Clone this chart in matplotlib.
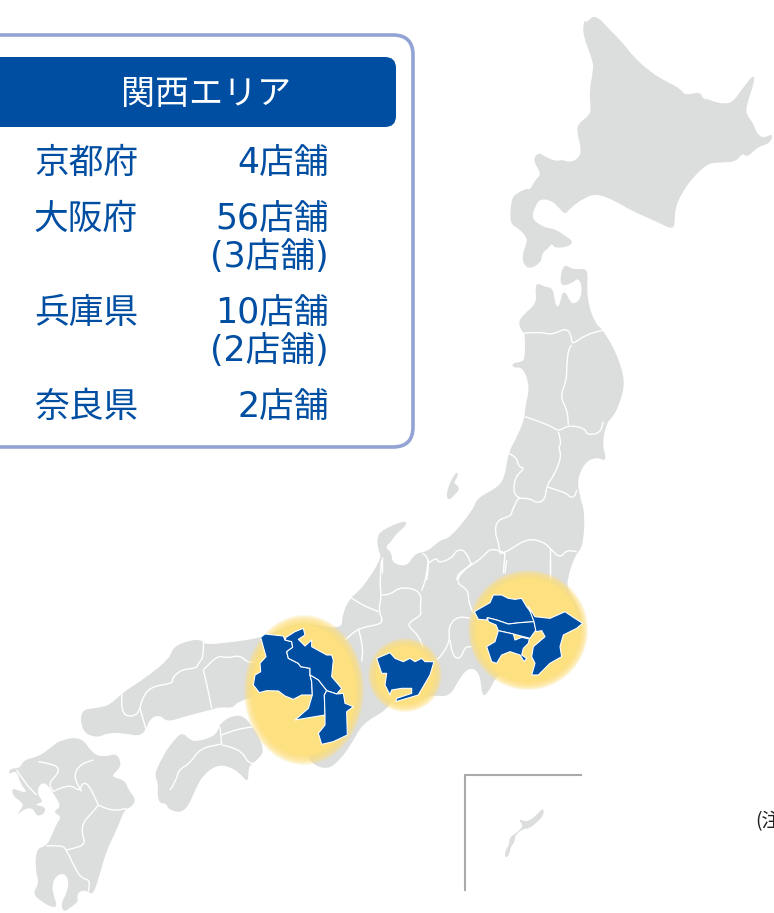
# -*- coding: utf-8 -*-
import matplotlib
matplotlib.use('Agg')
import matplotlib.pyplot as plt
from matplotlib.patches import Polygon, Ellipse, FancyBboxPatch, PathPatch
from matplotlib.path import Path

plt.rcParams['font.family'] = ['Noto Sans CJK JP', 'DejaVu Sans']
VALUE_FONT = ['DejaVu Sans', 'Noto Sans CJK JP']

LAND = '#dcdddd'
BLUE = '#004ea2'
GLOW = '#fde07f'

# shops table
prefs = ['京都府', '大阪府', '兵庫県', '奈良県']
shops = ['4店舗', '56店舗', '10店舗', '2店舗']
sub_shops = ['', '(3店舗)', '(2店舗)', '']
area_title = '関西エリア'

# traced outlines, image pixels
honshu = [(538,283),(545,287),(553,288),(555,303),(558,308),(561,300),(562,293),(566,292),(570,302),(575,304),
          (581,298),(582,284),(577,278),(573,283),(559,287),(563,263),(573,270),(588,268),(587,285),(588,303),
          (595,323),(603,330),(613,347),(620,363),(625,383),(620,403),(613,417),(607,422),(602,443),(607,462),
          (597,457),(585,462),(577,480),(580,497),(585,513),(583,547),(575,555),(567,580),(568,590),(575,600),
          (585,625),(572,645),(555,665),(538,675),(530,678),(525,655),(515,655),(510,670),(497,675),(488,693),
          (482,697),(480,673),(470,667),(460,677),(450,697),(433,695),(420,700),(405,700),(395,695),(387,710),
          (363,723),(352,743),(340,760),(327,770),(310,763),(300,740),(290,720),(270,700),(260,695),(237,702),
          (233,708),(220,707),(210,710),(183,717),(167,722),(160,715),(150,718),(143,737),(123,733),(107,733),
          (97,738),(82,732),(80,710),(97,708),(110,705),(122,693),(147,677),(170,658),(173,647),(190,640),
          (203,640),(205,645),(233,642),(260,638),(280,630),(300,622),(342,630),(342,615),(350,598),(358,592),
          (368,580),(382,557),(378,550),(377,537),(382,530),(405,520),(407,525),(397,533),(390,543),(385,547),
          (392,553),(392,563),(407,567),(415,553),(427,552),(440,540),(450,538),(473,510),(477,498),(497,488),
          (505,477),(508,453),(518,435),(525,417),(525,407),(530,387),(523,367),(513,368),(512,363),(522,362),
          (525,358),(525,335),(523,333),(518,323),(523,315),(537,303),(535,287)]
sado = [(457,470),(458,477),(453,483),(460,487),(457,493),(447,502),(447,488)]

# crop 1: origin 430,0 scale 3
hokkaido = [(462,60),(470,68),(495,42),(540,90),(580,130),(610,170),(660,215),(705,243),(750,265),(765,287),
            (810,275),(820,298),(835,297),(850,305),(885,312),(910,305),(945,255),(973,222),(972,250),(948,320),
            (950,345),(970,370),(980,400),(1000,415),(1030,400),(1020,430),(985,440),(965,460),(950,470),(935,460),
            (920,485),(865,488),(835,490),(790,530),(755,580),(735,625),(735,660),(730,690),(680,665),(600,630),
            (560,605),(500,580),(460,595),(420,625),(405,645),(380,615),(360,600),(330,597),(315,620),(305,655),
            (330,675),(355,685),(375,687),(410,710),(430,725),(415,740),(375,745),(365,730),(355,745),(335,760),
            (335,785),(305,805),(285,800),(275,770),(290,730),(290,710),(265,685),(245,675),(240,650),(245,595),
            (260,580),(290,565),(300,570),(315,540),(335,523),(308,480),(325,457),(345,470),(380,485),(395,478),
            (420,488),(445,475),(455,450),(440,395),(445,370),(480,345),(482,320),(478,270),(490,210),(488,180),
            (458,105)]

# crop 4: origin 0,620
shikoku = [(545,335),(570,360),(590,365),(640,350),(655,330),(660,310),(700,285),(740,290),(800,390),(760,430),
           (745,440),(745,490),(720,460),(690,440),(650,435),(610,465),(590,500),(555,580),(505,570),(500,550),
           (478,550),(472,520),(475,490),(465,470),(470,445),(500,390),(515,370)]
kyushu = [(180,360),(245,350),(280,405),(320,410),(345,400),(362,420),(360,445),(330,470),(375,480),(385,510),
          (410,540),(390,565),(375,565),(350,630),(320,690),(300,760),(280,825),(265,815),(245,810),(230,825),
          (235,845),(215,860),(190,878),(183,850),(200,820),(207,785),(195,760),(170,765),(155,795),(162,830),
          (172,860),(155,862),(125,845),(97,820),(118,790),(105,745),(110,685),(135,680),(150,660),(170,610),
          (185,590),(158,575),(185,560),(160,520),(140,490),(120,490),(110,520),(130,545),(115,550),(105,555),
          (135,560),(135,580),(110,590),(100,565),(75,565),(45,590),(70,560),(65,545),(40,530),(35,505),
          (50,510),(85,520),(60,490),(50,450),(25,465),(30,445),(60,445),(70,420),(115,410),(150,385)]
west_borders = [
    [(610,60),(612,110),(595,130),(590,145),(545,148),(515,175),(520,190),(450,200),(425,240),(420,265),(410,285),(380,290),(365,270),(365,220)],
    [(610,150),(620,190),(635,265)],
    [(610,150),(650,105),(680,115),(720,105),(745,130),(780,120)],
    [(420,265),(440,335)],
    [(510,510),(530,480),(535,450),(570,430),(600,385),(665,372)],
    [(660,320),(665,372)],
    [(665,345),(700,330),(760,320)],
    [(665,375),(720,385),(745,430),(770,430)],
    [(50,450),(75,490),(110,525)],
    [(115,425),(145,430),(175,440),(175,460),(145,490),(160,515)],
    [(160,515),(205,490),(240,515),(245,490),(265,490),(295,555)],
    [(280,420),(240,430),(220,470),(245,515)],
    [(295,555),(280,575),(250,605),(245,640),(258,675),(200,690)],
    [(295,555),(325,570),(360,570),(378,565)],
    [(140,678),(185,675),(200,690),(225,745),(245,775),(270,780),(265,815)],
]

# crop 2: origin 340,280
north_borders = [
    [(548,160),(600,155),(635,165),(680,143),(695,170),(695,195),(735,165),(790,150)],
    [(695,195),(685,205),(680,260),(680,300),(660,350),(682,390),(685,435)],
    [(555,410),(630,435),(655,455),(685,435),(735,445),(740,465),(780,460),(790,425)],
    [(655,455),(665,490),(655,500),(665,530),(640,590),(620,615),(615,660),(590,670),(570,655),(535,655)],
    [(505,520),(530,530),(535,560),(555,565),(525,590),(520,640),(540,655)],
    [(620,620),(650,630),(680,640),(690,652),(705,650),(710,630)],
    [(535,655),(515,690),(515,708),(470,720),(465,760),(475,785),(480,820)],
    [(480,820),(495,820),(560,775),(610,785),(630,805),(660,835),(680,810),(710,815)],
    [(495,820),(455,800),(430,830),(395,855),(355,880),(350,900)],
    [(630,805),(630,900)],
    [(495,820),(490,880)],
    [(248,820),(265,830),(265,870),(260,900)],
    [(265,850),(290,830),(295,850),(335,835),(350,810),(375,810),(395,855)],
    [(125,830),(125,880)],
]

# crop 3: origin 230,560
central_borders = [
    [(455,0),(448,60),(455,110),(445,150),(460,185),(440,195),(385,205),(345,240)],
    [(360,110),(385,130),(445,155)],
    [(385,205),(400,260),(395,305)],
    [(455,105),(480,105),(510,80),(575,92),(570,150),(575,165),(540,185),(535,200),(565,225),(580,265)],
    [(595,0),(590,50),(575,92)],
    [(725,10),(690,40),(680,70),(715,90),(715,125),(730,160)],
    [(720,175),(685,165),(655,200),(660,240),(640,280),(620,300)],
    [(660,240),(665,285),(690,300),(705,260),(725,260)],
    [(830,0),(825,40)],
    [(960,0),(960,50)],
]
hyogo = [(92,232),(105,222),(160,228),(165,240),(185,245),(188,262),(170,275),(175,295),(205,310),(212,320),
         (240,325),(240,345),(245,365),(247,405),(222,405),(215,405),(190,418),(165,408),(145,393),(110,392),
         (88,398),(70,375),(75,345),(92,335),(90,310),(108,290)]
kyoto = [(165,240),(168,232),(195,215),(220,205),(225,225),(205,238),(225,258),(245,240),(245,260),(290,285),
         (305,285),(310,300),(305,350),(335,385),(320,402),(290,392),(265,360),(240,345),(240,325),(212,320),
         (205,310),(175,295),(170,275),(188,262),(185,245)]
osaka = [(240,345),(265,360),(290,392),(283,405),(285,465),(195,480),(235,445),(247,405),(245,365)]
nara = [(290,392),(320,402),(340,400),(345,430),(370,440),(350,455),(352,525),(310,545),(275,553),(265,520),
        (285,495),(285,465),(283,405)]
aichi = [(440,295),(480,278),(495,295),(520,305),(540,295),(555,305),(575,295),(585,305),(612,305),(600,345),
         (565,405),(497,425),(500,415),(545,400),(545,385),(515,385),(485,390),(480,405),(465,375),(470,340),(455,340)]
saitama = [(733,155),(750,145),(780,128),(790,105),(815,105),(835,115),(855,118),(875,115),(890,140),(905,160),
           (912,185),(870,188),(835,192),(800,180),(772,173),(770,180),(745,178)]
tokyo = [(772,173),(800,180),(835,192),(870,188),(912,185),(918,210),(900,235),(850,222),(805,212),(798,195),(775,185)]
kanagawa = [(805,212),(850,222),(855,240),(875,232),(898,237),(895,250),(880,265),(875,285),(890,295),(882,305),
            (870,285),(840,275),(815,285),(800,310),(785,305),(770,260),(795,245)]
chiba = [(895,140),(915,170),(960,175),(1005,155),(1030,172),(1058,190),(1040,205),(1000,225),(990,260),(995,290),
         (960,310),(925,345),(905,345),(915,310),(905,290),(910,260),(945,230),(935,212),(918,215),(912,185)]

# crop 6: origin 450,760
okinawa = [(280,143),(282,165),(258,190),(235,207),(222,205),(195,225),(195,245),(182,260),(178,285),(165,295),
           (165,272),(178,255),(178,232),(195,222),(215,205),(218,195),(205,178),(220,182),(235,185),(265,160)]


def crop(points, x0, y0):
    return [(x0 + x / 3, y0 + y / 3) for x, y in points]


def rounded(points, closed=False):
    # quadratic curves through the midpoints, traced points act as controls
    mids = [((a[0] + b[0]) / 2, (a[1] + b[1]) / 2) for a, b in zip(points, points[1:] + points[:1])]
    if closed:
        verts = [mids[-1]]
        codes = [Path.MOVETO]
        for p, m in zip(points, mids):
            verts += [p, m]
            codes += [Path.CURVE3, Path.CURVE3]
        return Path(verts, codes)
    verts = [points[0]]
    codes = [Path.MOVETO]
    for p, m in zip(points[1:-1], mids[1:-1]):
        verts += [p, m]
        codes += [Path.CURVE3, Path.CURVE3]
    verts.append(points[-1])
    codes.append(Path.LINETO)
    return Path(verts, codes)


fig = plt.figure(figsize=(7.74, 9.13), dpi=100)
ax = fig.add_axes([0, 0, 1, 1])
ax.set_xlim(0, 774)
ax.set_ylim(913, 0)
ax.axis('off')

land = [honshu, sado, crop(hokkaido, 430, 0), crop(shikoku, 0, 620), crop(kyushu, 0, 620), crop(okinawa, 450, 760)]
for shape in land:
    ax.add_patch(PathPatch(rounded(shape, closed=True), fc=LAND, ec='none', zorder=1))

for lines, x0, y0 in [(west_borders, 0, 620), (north_borders, 340, 280), (central_borders, 230, 560)]:
    for line in lines:
        ax.add_patch(PathPatch(rounded(crop(line, x0, y0)), fc='none', ec='white', lw=1.0, zorder=2))

# soft yellow blobs
for cx, cy, rx, ry in [(304, 690, 60, 75), (405, 675, 37, 37), (528, 630, 60, 60)]:
    for k in range(12):
        s = 1 - k * 0.7 / rx
        ax.add_patch(Ellipse((cx, cy), 2 * rx * s, 2 * ry * s, fc=GLOW, ec='none',
                             alpha=0.18 if k < 11 else 1, zorder=3))

for shape in [hyogo, kyoto, osaka, nara, aichi, saitama, tokyo, kanagawa, chiba]:
    ax.add_patch(Polygon(crop(shape, 230, 560), closed=True, fc=BLUE, ec='white', lw=0.8, zorder=4,
                         joinstyle='round'))

# okinawa inset frame
ax.plot([581, 465, 465], [775, 775, 890], color='#aaaaaa', lw=1.5, zorder=2, solid_joinstyle='miter')

# panel
ax.add_patch(FancyBboxPatch((-40, 35), 453, 412, boxstyle='round,pad=0,rounding_size=20',
                            fc='white', ec='#93a3d4', lw=2.6, zorder=5))
ax.add_patch(FancyBboxPatch((-30, 57), 426, 70, boxstyle='round,pad=0,rounding_size=11',
                            fc=BLUE, ec='none', zorder=6))
ax.text(206, 94, area_title, color='white', fontsize=24.5, ha='center', va='center', zorder=7)

row_y = [163, 219, 313, 407]
sub_y = [None, 257, 351, None]
for name, n, sub, y, y2 in zip(prefs, shops, sub_shops, row_y, sub_y):
    ax.text(34, y, name, color=BLUE, fontsize=25, ha='left', va='center', zorder=7)
    ax.text(329, y, n, color=BLUE, fontsize=25, ha='right', va='center', zorder=7, family=VALUE_FONT)
    if sub:
        ax.text(329, y2, sub, color=BLUE, fontsize=25, ha='right', va='center', zorder=7, family=VALUE_FONT)

ax.text(755, 822, '(注', color='#222222', fontsize=14, ha='left', va='center', zorder=7)

fig.savefig('out.png', dpi=100)
